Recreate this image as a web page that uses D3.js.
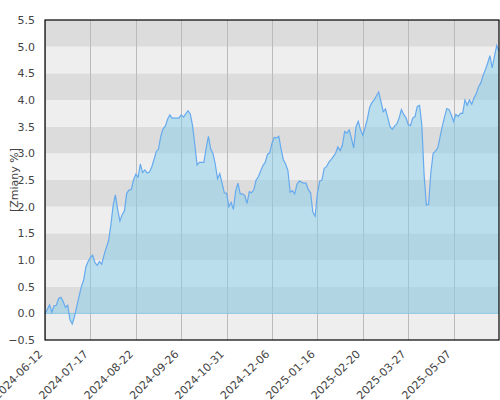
<!DOCTYPE html>
<html>
<head>
<meta charset="utf-8">
<script src="https://cdn.jsdelivr.net/npm/d3@7"></script>
<style>
  html, body { margin: 0; padding: 0; background: #fff; }
  svg { display: block; }
  text { font-family: "DejaVu Sans", sans-serif; }
</style>
</head>
<body>
<div id="chart"></div>
<script>
// ---- data ----
const tickLabels = ["2024-06-12","2024-07-17","2024-08-22","2024-09-26","2024-10-31",
                    "2024-12-06","2025-01-16","2025-02-20","2025-03-27","2025-05-07"];
const tickIndex = [0,20,40,60,80,100,120,140,160,180];
const yTicks = [-0.5,0.0,0.5,1.0,1.5,2.0,2.5,3.0,3.5,4.0,4.5,5.0,5.5];
const values = [
  0,0.07,0.16,0.02,0.14,0.15,0.28,0.3,0.22,0.11,
  0.15,-0.12,-0.2,-0.06,0.13,0.32,0.5,0.62,0.87,0.97,
  1.05,1.09,0.95,0.9,0.97,0.92,1.09,1.23,1.36,1.65,
  2.02,2.22,1.95,1.73,1.85,1.92,2.25,2.31,2.32,2.5,
  2.61,2.55,2.8,2.64,2.69,2.63,2.65,2.74,2.88,3.03,
  3.08,3.32,3.46,3.51,3.64,3.72,3.66,3.66,3.66,3.66,
  3.72,3.68,3.74,3.8,3.74,3.52,3.16,2.78,2.83,2.83,
  2.83,3.1,3.32,3.08,3.0,2.8,2.52,2.62,2.44,2.26,
  2.25,2.0,2.08,1.95,2.3,2.44,2.24,2.24,2.21,2.06,
  2.28,2.26,2.32,2.5,2.56,2.67,2.77,2.83,2.98,3.01,
  3.19,3.3,3.29,3.32,3.08,2.88,2.8,2.68,2.27,2.3,
  2.24,2.42,2.48,2.46,2.44,2.44,2.32,2.26,1.9,1.82,
  2.25,2.48,2.5,2.72,2.75,2.83,2.88,2.94,3.0,3.12,
  3.05,3.15,3.41,3.38,3.44,3.28,3.1,3.5,3.6,3.44,
  3.34,3.48,3.64,3.86,3.95,4.0,4.08,4.15,3.97,3.78,
  3.83,3.67,3.5,3.45,3.51,3.55,3.66,3.82,3.73,3.67,
  3.54,3.52,3.66,3.69,3.88,3.9,3.53,2.6,2.03,2.05,
  2.65,3.0,3.04,3.1,3.3,3.5,3.68,3.84,3.82,3.72,
  3.6,3.73,3.69,3.75,3.75,4.0,3.9,4.0,3.92,4.04,
  4.12,4.25,4.32,4.46,4.57,4.69,4.83,4.6,4.82,5.02,
  4.92
];
const yTitle = "[Zmiany %]";

// ---- layout ----
const W = 500, H = 400;
const m = {left: 45, top: 20, right: 1, bottom: 60};
const pw = W - m.left - m.right, ph = H - m.top - m.bottom;

const svg = d3.select("#chart").append("svg").attr("width", W).attr("height", H);
const g = svg.append("g").attr("transform", `translate(${m.left},${m.top})`);

const x = d3.scaleLinear().domain([0, values.length - 1]).range([0, pw]);
const y = d3.scaleLinear().domain([-0.5, 5.5]).range([ph, 0]);

// background bands
const bands = d3.range(yTicks.length - 1).map(i => [yTicks[i], yTicks[i + 1]]);
g.selectAll("rect.band").data(bands).enter().append("rect")
  .attr("x", 0).attr("width", pw)
  .attr("y", d => y(d[1])).attr("height", d => y(d[0]) - y(d[1]))
  .attr("fill", d => (Math.round(d[0] * 2) % 2 === 0) ? "#dcdcdc" : "#eeeeee");

// vertical grid lines
g.selectAll("line.vgrid").data(tickIndex).enter().append("line")
  .attr("x1", d => Math.round(x(d)) + 0.5).attr("x2", d => Math.round(x(d)) + 0.5)
  .attr("y1", 0).attr("y2", ph)
  .attr("stroke", "#bbbbbb").attr("stroke-width", 1);

// area
const area = d3.area().x((d, i) => x(i)).y0(y(0)).y1(d => y(d));
g.append("path").datum(values).attr("d", area)
  .attr("fill", "#87ceeb").attr("fill-opacity", 0.5);

// zero line
g.append("line").attr("x1", 0).attr("x2", pw).attr("y1", y(0)).attr("y2", y(0))
  .attr("stroke", "#8cc6e2").attr("stroke-width", 1);

// line
const line = d3.line().x((d, i) => x(i)).y(d => y(d));
g.append("path").datum(values).attr("d", line)
  .attr("fill", "none").attr("stroke", "#66aaee").attr("stroke-width", 1.2);

// frame
g.append("rect").attr("x", 0).attr("y", 0).attr("width", pw).attr("height", ph)
  .attr("fill", "none").attr("stroke", "#000").attr("stroke-width", 1.2);

// y axis labels
const yAxis = d3.axisLeft(y).tickValues(yTicks).tickFormat(d3.format(".1f")).tickSize(0).tickPadding(10);
const ya = g.append("g").call(yAxis);
ya.select(".domain").remove();
ya.selectAll("text").attr("font-size", 11).attr("fill", "#444").attr("font-family", "DejaVu Sans");

// x axis labels
const xAxis = d3.axisBottom(x).tickValues(tickIndex).tickFormat((d, i) => tickLabels[i]).tickSize(0);
const xa = g.append("g").attr("transform", `translate(0,${ph})`).call(xAxis);
xa.select(".domain").remove();
xa.selectAll("text")
  .attr("font-size", 11).attr("fill", "#444").attr("font-family", "DejaVu Sans")
  .attr("text-anchor", "end")
  .attr("transform", "translate(-5,12) rotate(-45)")
  .attr("dy", "0.35em").attr("y", 0);

// y title
svg.append("text")
  .attr("transform", `translate(18,${m.top + ph / 2}) rotate(-90)`)
  .attr("text-anchor", "middle")
  .attr("font-size", 11).attr("fill", "#444")
  .text(yTitle);
</script>
</body>
</html>
